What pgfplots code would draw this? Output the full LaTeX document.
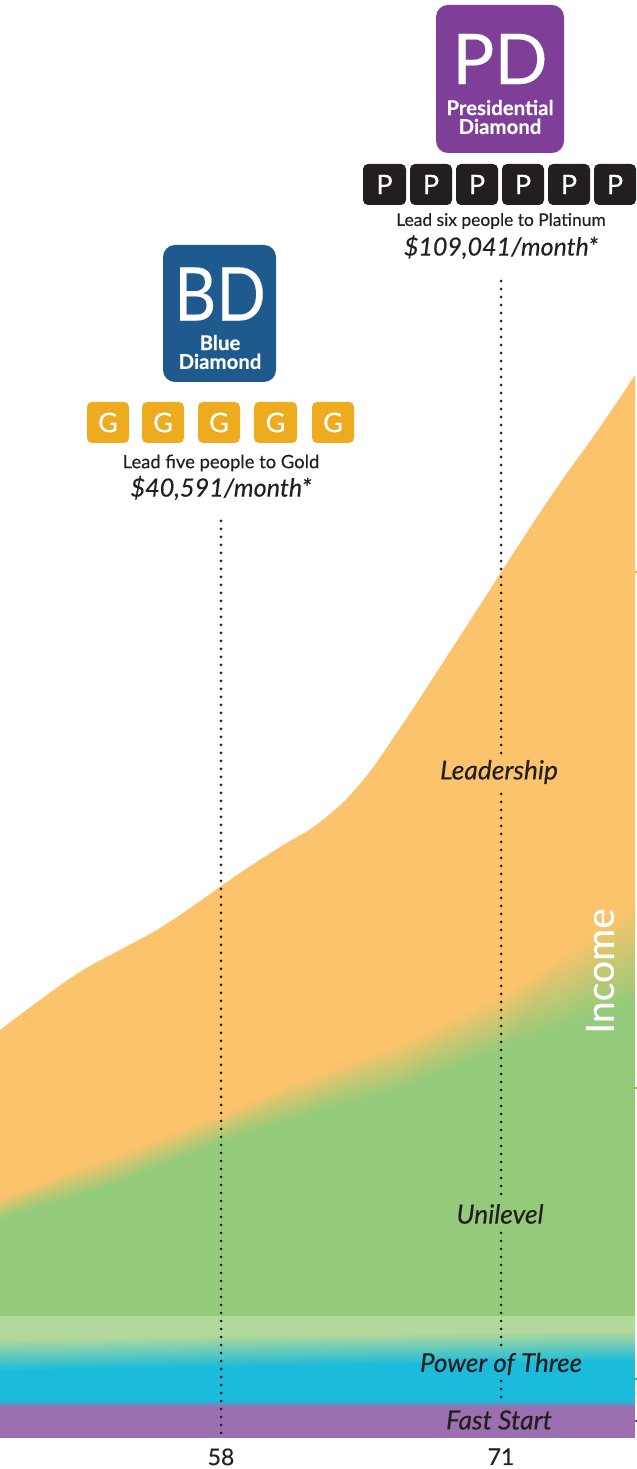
\documentclass[border=0pt]{standalone}
\usepackage{pgfplots}
\usepackage{fontspec}
\pgfplotsset{compat=1.18}
\setmainfont{Lato}[FakeBold=0.25]
\definecolor{orangeA}{RGB}{251,195,107}
\definecolor{ink}{RGB}{35,31,32}
\definecolor{pdpurple}{RGB}{127,63,152}
\definecolor{bdblue}{RGB}{31,90,143}
\definecolor{gold}{RGB}{238,171,32}
\definecolor{tickO}{RGB}{240,170,40}
\definecolor{tickG}{RGB}{141,198,63}
\definecolor{tickT}{RGB}{26,170,170}
\definecolor{tickP}{RGB}{127,63,152}
\pgfplotsset{colormap={tiers}{rgb255(0)=(251,195,107) rgb255(1)=(147,203,122) rgb255(2)=(178,217,155) rgb255(3)=(27,187,219) rgb255(4)=(155,111,176)}}
\newcommand{\fs}[1]{\fontsize{#1}{#1}\selectfont}
\newcommand{\tile}[5]{\fill[#5,rounded corners=2.5pt] (#1,#2) rectangle (#3,#2+41);
  \node[text=white,inner sep=0,font=\fs{13.5}] at ({(#1+#3)/2},#2+20.5) {#4};}
\begin{document}
\begin{tikzpicture}
\path[use as bounding box] (0,-16pt) rectangle (318.5pt,718.5pt);
\begin{axis}[
  at={(0,0)},anchor=south west,
  scale only axis,width=317.5pt,height=718.5pt,
  xmin=47.74,xmax=77.22,ymin=0,ymax=1437,
  clip=false,
  axis line style={draw=none},
  ytick=\empty,
  xtick={58,71},xticklabels={58,71},
  major tick length=0pt,
  x tick label style={font=\fs{11.5},text=ink,yshift=-2.2pt},
  point meta min=0,point meta max=4,
  colormap name=tiers,
]
% Income envelope (top of Leadership)
\addplot[draw=none,fill=orangeA,smooth,tension=0.7] coordinates {
 (47.74,407) (49.60,437) (51.45,465) (53.31,487) (55.17,509) (57.03,536)
 (58.88,564) (60.74,590) (62.60,615) (64.45,653) (66.31,709) (68.17,770)
 (70.03,832) (71.88,894) (73.74,954) (75.60,1010) (77.22,1062)} \closedcycle;
% Lower layers with soft colour transitions
\addplot[surf,shader=interp,mesh/rows=9,mesh/cols=8,point meta=explicit]
 table[x=x,y=y,meta=m] {
x y m
47.74 240 0
52.38 277 0
58 324 0
61.67 357 0
66.31 394 0
71 442 0
74.2 487 0
77.22 532 0
47.74 217 1
52.38 247 1
58 294 1
61.67 319 1
66.31 347 1
71 387 1
74.2 412 1
77.22 434 1
47.74 121 1
52.38 121 1
58 121 1
61.67 121 1
66.31 121 1
71 121 1
74.2 121 1
77.22 121 1
47.74 121 2
52.38 121 2
58 121 2
61.67 121 2
66.31 121 2
71 121 2
74.2 121 2
77.22 121 2
47.74 99 2
52.38 100 2
58 102 2
61.67 103 2
66.31 104 2
71 105 2
74.2 106 2
77.22 106 2
47.74 66 3
52.38 68 3
58 70 3
61.67 71 3
66.31 73 3
71 74 3
74.2 75 3
77.22 76 3
47.74 37 3
52.38 37 3
58 37 3
61.67 37 3
66.31 37 3
71 37 3
74.2 37 3
77.22 37 3
47.74 30 4
52.38 30 4
58 30 4
61.67 30 4
66.31 30 4
71 30 4
74.2 30 4
77.22 30 4
47.74 0 4
52.38 0 4
58 0 4
61.67 0 4
66.31 0 4
71 0 4
74.2 0 4
77.22 0 4
};
% dotted age lines
\addplot[ink,line width=1.5pt,line cap=round,dash pattern=on 0pt off 4pt] coordinates {(58,4) (58,920)};
\addplot[ink,line width=1.5pt,line cap=round,dash pattern=on 0pt off 4pt] coordinates {(71,40) (71,56)};
\addplot[ink,line width=1.5pt,line cap=round,dash pattern=on 0pt off 4pt] coordinates {(71,92) (71,204)};
\addplot[ink,line width=1.5pt,line cap=round,dash pattern=on 0pt off 4pt] coordinates {(71,243) (71,643)};
\addplot[ink,line width=1.5pt,line cap=round,dash pattern=on 0pt off 4pt] coordinates {(71,684) (71,1156)};
% right-hand tier ticks
\addplot[tickO,line width=0.9pt] coordinates {(77.22,865) (77.31,865)};
\addplot[tickG,line width=0.9pt] coordinates {(77.22,349) (77.31,349)};
\addplot[tickT,line width=0.9pt] coordinates {(77.22,58) (77.31,58)};
\addplot[tickP,line width=0.9pt] coordinates {(77.22,16) (77.31,16)};
\end{axis}
\begin{scope}[shift={(0,718.5pt)},x=0.5pt,y=-0.5pt]
% PD badge
\fill[pdpurple,rounded corners=6pt] (436,5) rectangle (564,153);
\node[text=white,inner sep=0,font=\fs{35}] at (500,59) {PD};
\node[text=white,inner sep=0,font=\bfseries\fs{10.2},align=center] at (500,117) {Presidential\\[-0.8pt]Diamond};
\foreach \a/\b in {363/406,410/452,456/498,502/544,548/590,594/636}{\tile{\a}{164}{\b}{P}{ink}}
\node[text=ink,inner sep=0,font=\fs{8.7}] at (501,221) {Lead six people to Platinum};
\node[text=ink,inner sep=0,font=\itshape\fs{12.5}] at (501,247) {\$109,041/month*};
% BD badge
\fill[bdblue,rounded corners=6pt] (163,245) rectangle (276,382);
\node[text=white,inner sep=0,font=\fs{37}] at (220,294) {\scalebox{0.88}[1]{BD}};
\node[text=white,inner sep=0,font=\bfseries\fs{10.2},align=center] at (220,352) {Blue\\[-0.8pt]Diamond};
\foreach \a/\b in {87/129,142/184,198/240,254/297,312/354}{\tile{\a}{402}{\b}{G}{gold}}
\node[text=ink,inner sep=0,font=\fs{9.2}] at (221,463) {Lead five people to Gold};
\node[text=ink,inner sep=0,font=\itshape\fs{12.6}] at (221,488) {\$40,591/month*};
% tier labels
\node[text=ink,inner sep=0,font=\itshape\fs{13.2}] at (499,772) {Leadership};
\node[text=ink,inner sep=0,font=\itshape\fs{13.2}] at (500,1214) {Unilevel};
\node[text=ink,inner sep=0,font=\itshape\fs{13.0}] at (501,1364) {Power of Three};
\node[text=ink,inner sep=0,font=\itshape\fs{13.2}] at (499,1420) {Fast Start};
\node[text=white,inner sep=0,font=\fs{19.5},rotate=90] at (600,971) {Income};
\end{scope}
\end{tikzpicture}
\end{document}
